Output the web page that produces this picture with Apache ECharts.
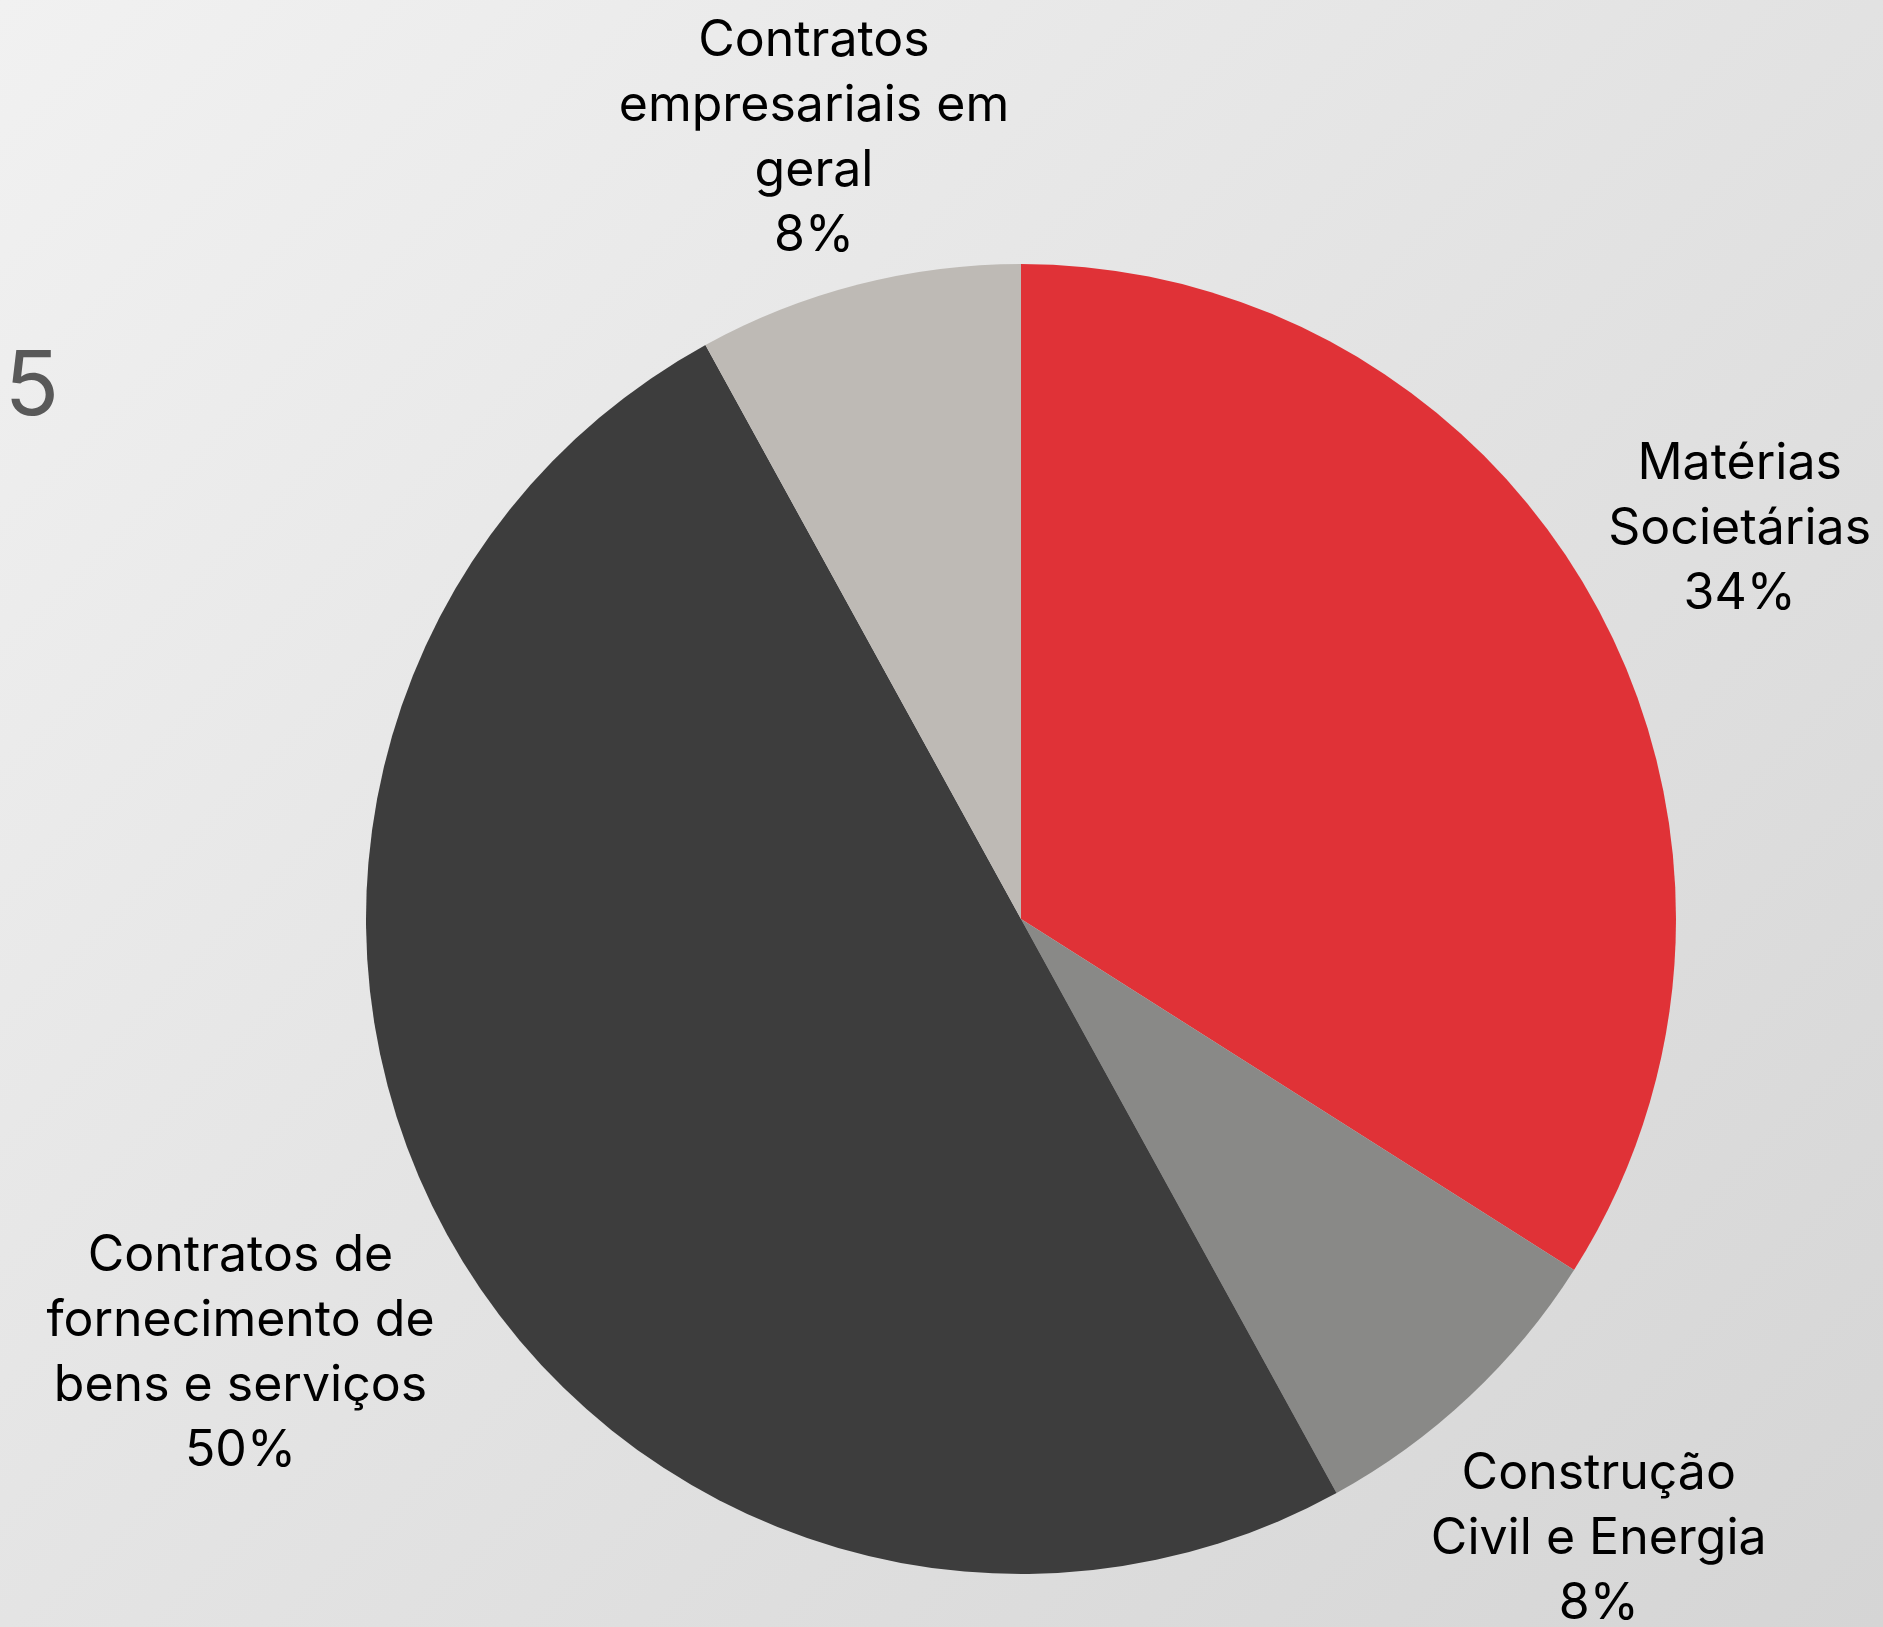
<!DOCTYPE html>
<html>
<head>
<meta charset="utf-8">
<script src="https://cdn.jsdelivr.net/npm/echarts@6/dist/echarts.min.js"></script>
<style>
html,body{margin:0;padding:0;width:1883px;height:1627px;overflow:hidden;}
#main{width:1883px;height:1627px;background:linear-gradient(135deg,#f1f1f1 0%,#e3e3e3 50%,#d5d5d5 100%);}
</style>
</head>
<body>
<div id="main"></div>
<script>
const categories = [
  'Matérias\nSocietárias',
  'Construção\nCivil e Energia',
  'Contratos de\nfornecimento de\nbens e serviços',
  'Contratos\nempresariais em\ngeral'
];
const values = [34, 8, 50, 8];
const colors = ['#E03237', '#898987', '#3D3D3D', '#BEBAB5'];
const sideText = '15';

const CENTER = [1021, 919];
const RADIUS = 655;
const FONT = 'Inter, sans-serif';

const total = values.reduce((a, b) => a + b, 0);
const midAngles = [];
let acc = 0;
values.forEach(v => { midAngles.push((acc + v / 2) / total * 2 * Math.PI); acc += v; });

const chart = echarts.init(document.getElementById('main'), null, {renderer: 'canvas'});
chart.setOption({
  backgroundColor: 'transparent',
  graphic: [{
    type: 'text',
    left: -32,
    top: 343,
    style: {
      text: sideText,
      fontSize: 90,
      fontFamily: FONT,
      fill: '#595959',
      textAlign: 'left'
    },
    silent: true
  }],
  series: [{
    type: 'pie',
    center: CENTER,
    radius: RADIUS,
    startAngle: 90,
    clockwise: true,
    avoidLabelOverlap: false,
    percentPrecision: 0,
    label: {
      show: true,
      position: 'outside',
      formatter: '{b}\n{d}%',
      fontFamily: FONT,
      fontSize: 50,
      lineHeight: 65,
      color: '#000',
      align: 'center'
    },
    labelLine: {show: false},
    emphasis: {disabled: true},
    labelLayout: function (p) {
      const a = midAngles[p.dataIndex];
      const dx = Math.sin(a), dy = -Math.cos(a);
      const hw = p.labelRect.width / 2, hh = p.labelRect.height / 2;
      const d = RADIUS + hw * Math.abs(dx) + hh * Math.abs(dy) + 3;
      let y = CENTER[1] + dy * d + 5;
      if (y - hh < 8) y = 8 + hh;
      return {
        x: CENTER[0] + dx * d,
        y: y,
        align: 'center',
        verticalAlign: 'middle'
      };
    },
    data: categories.map((n, i) => ({name: n, value: values[i], itemStyle: {color: colors[i]}}))
  }]
});
</script>
</body>
</html>
